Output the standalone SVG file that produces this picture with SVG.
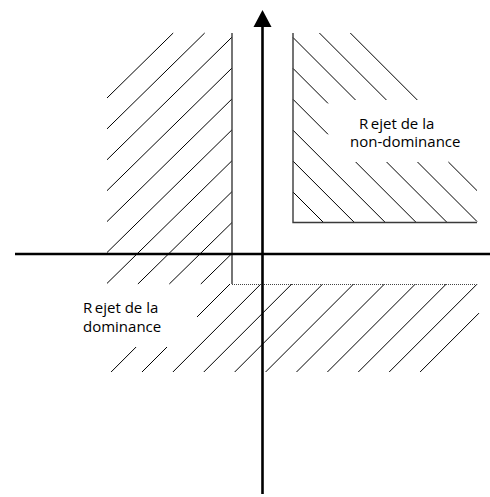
<svg xmlns="http://www.w3.org/2000/svg" width="490" height="497" viewBox="0 0 490 497">
<style>
.h{stroke:#000;stroke-width:1;fill:none}
.b{stroke:#3a3a3a;stroke-width:1.4;fill:none}
.ax{stroke:#000;stroke-width:2.6;fill:none}
.dot{stroke:#444;stroke-width:1;stroke-dasharray:1 1;fill:none}
.t{font-family:"Open Sans","Noto Sans",sans-serif;font-size:15px;fill:#000}
</style>
<rect width="490" height="497" fill="#fff"/>
<g id="region-dominance-upper">
<path class="h" d="M107,98L173.2,33M107,128.9L204.7,33M107,159.8L232,37.1M107,190.7L232,68M107,221.6L232,98.9M107,252.5L232,129.8M107,283.4L232,160.7M137.9,284L232,191.6M169.3,284L232,222.5M200.8,284L232,253.4"/>
<path class="b" d="M232,33V284"/>
</g>
<g id="region-dominance-lower">
<path class="h" d="M136.1,347L111.1,372M230,284L197,317M167,347L142,372M260.9,284L172.9,372M291.8,284L203.8,372M322.7,284L234.7,372M353.6,284L265.6,372M384.5,284L296.5,372M415.4,284L327.4,372M446.3,284L358.3,372M477.2,284L389.2,372M479,313.1L420.1,372"/>
<path class="dot" d="M232,284.5H478"/>
<text class="t" x="83" y="312.5">R<tspan dx="2.5">ejet de la</tspan></text>
<text class="t" x="83" y="331.5">dominance</text>
</g>
<g id="region-non-dominance">
<path class="h" d="M293,192L323,222M293,161.1L353.9,222M293,130.2L384.8,222M293,99.3L328,134.3M355.7,162L415.7,222M293,68.4L328,103.4M386.6,162L446.6,222M293,37.5L355.5,100M417.5,162L477,221.5M319.4,33L386.4,100M448.4,162L477,190.6M350.3,33L417.3,100"/>
<path class="b" d="M293,33V222.5H477"/>
<text class="t" x="359" y="128.5">R<tspan dx="2.5">ejet de la</tspan></text>
<text class="t" x="350" y="147">non-dominance</text>
</g>
<g id="connectors">
<path class="ax" d="M15,254H490"/>
<path class="ax" d="M262.5,494V24"/>
<polygon points="262.5,10 253.5,27 271.5,27" fill="#000"/>
</g>
</svg>
